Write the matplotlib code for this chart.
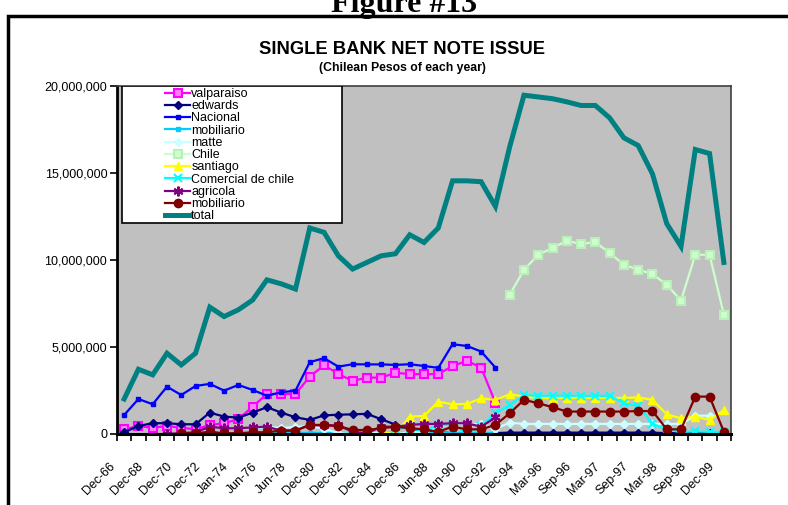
import numpy as np
import matplotlib
matplotlib.use("Agg")
import matplotlib.pyplot as plt
from matplotlib.patches import Rectangle
from matplotlib.ticker import FuncFormatter, FixedLocator
from matplotlib.transforms import ScaledTranslation

plt.rcParams["font.family"] = ["Liberation Sans", "DejaVu Sans"]

nan = np.nan

# tick labels (every other category), 43 categories in total
tick_labels = [
    "Dec-66", "Dec-68", "Dec-70", "Dec-72", "Jan-74", "Jun-76", "Jun-78",
    "Dec-80", "Dec-82", "Dec-84", "Dec-86", "Jun-88", "Jun-90", "Dec-92",
    "Dec-94", "Mar-96", "Sep-96", "Mar-97", "Sep-97", "Mar-98", "Sep-98",
    "Dec-99",
]
n_cat = 43

# values in millions of pesos
valparaiso = [0.27, 0.46, 0.36, 0.46, 0.36, 0.27, 0.52, 0.62, 0.85, 1.57, 2.3,
              2.3, 2.3, 3.3, 3.95, 3.45, 3.05, 3.24, 3.24, 3.52, 3.44, 3.44,
              3.44, 3.91, 4.2, 3.82, 1.8] + [nan] * 16
edwards = [0.1, 0.46, 0.62, 0.62, 0.56, 0.56, 1.23, 1.0, 0.94, 1.23, 1.54,
           1.23, 0.96, 0.81, 1.07, 1.11, 1.13, 1.16, 0.85, 0.54, 0.3, 0.15,
           0.1, 0.05, 0.05, 0.05, 0.05, 0.08, 0.08, 0.08, 0.08, 0.08, 0.08,
           0.08, 0.08, 0.08, 0.08, 0.08, 0.05, 0.05, 0.05, 0.05, 0.05]
nacional = [1.09, 2.01, 1.71, 2.72, 2.24, 2.76, 2.88, 2.49, 2.82, 2.53, 2.2,
            2.4, 2.49, 4.13, 4.36, 3.87, 4.01, 4.0, 4.0, 3.97, 4.01, 3.91,
            3.8, 5.16, 5.06, 4.74, 3.82] + [nan] * 16
mobiliario_1 = [nan] * 6 + [0.03] * 21 + [nan] * 16
matte = [nan] * 9 + [0.3, 0.4, 0.35, 0.4, 0.45, 0.3, 0.05, 0.0, 0.0, 0.1,
                     0.0, 0.1, 0.1, 0.4, 0.6, 0.6, 0.55, 0.3, 0.65] \
    + [0.58] * 12 + [1.05, 1.05, nan]
chile = [nan] * 27 + [8.0, 9.44, 10.3, 10.69, 11.1, 10.92, 11.03, 10.4, 9.73,
                      9.44, 9.2, 8.58, 7.67, 10.3, 10.3, 6.85]
santiago = [nan] * 18 + [0.05, 0.05, 1.0, 1.04, 1.86, 1.71, 1.73, 2.05, 1.96,
                         2.28, 2.15, 2.07, 2.07, 2.07, 2.07, 2.07, 2.07, 2.07,
                         2.1, 1.96, 1.13, 0.9, 1.0, 0.81, 1.38]
comercial = [nan] * 19 + [0.3, 0.3, 0.2, 0.5, 0.55, 0.02, 0.45, 1.19, 1.67,
                          2.24, 2.2, 2.2, 2.2, 2.2, 2.2, 2.2, 1.77, 1.61, 0.6,
                          0.23, 0.12, 0.15, 0.12, 0.12]
agricola = [nan] * 3 + [0.0, 0.05, 0.1, 0.42, 0.33, 0.33, 0.38, 0.42, 0.19,
                        0.19, 0.52, 0.49, 0.49, 0.13, 0.04, 0.42, 0.42, 0.52,
                        0.58, 0.58, 0.62, 0.62, 0.42, 0.95] + [nan] * 16
mobiliario_2 = [nan] * 4 + [0.04, 0.04, 0.13, 0.04, 0.04, 0.1, 0.1, 0.2, 0.2,
                            0.52, 0.52, 0.46, 0.23, 0.23, 0.33, 0.42, 0.33,
                            0.27, 0.13, 0.42, 0.27, 0.27, 0.52, 1.19, 1.96,
                            1.77, 1.54, 1.29, 1.29, 1.29, 1.29, 1.29, 1.32,
                            1.32, 0.27, 0.27, 2.15, 2.15, 0.13]
total = [2.01, 3.72, 3.40, 4.64, 3.97, 4.64, 7.29, 6.75, 7.14, 7.7, 8.86, 8.63,
         8.33, 11.84, 11.59, 10.24, 9.48, 9.86, 10.24, 10.36, 11.45, 11.01,
         11.84, 14.55, 14.55, 14.5, 13.08, 16.5, 19.47, 19.37, 19.27, 19.09,
         18.88, 18.88, 18.17, 17.02, 16.58, 14.95, 12.09, 10.78, 16.35, 16.12,
         9.86]

series = [
    ("valparaiso", valparaiso, "#ff00ff", dict(marker="s", ms=6, mfc="#ff80ff", mew=1.5)),
    ("edwards", edwards, "#000080", dict(marker="D", ms=4.5)),
    ("Nacional", nacional, "#0000ff", dict(marker="s", ms=3)),
    ("mobiliario", mobiliario_1, "#00ccff", dict(marker="s", ms=3)),
    ("matte", matte, "#ccffff", dict(marker="D", ms=4.5)),
    ("Chile", chile, "#ccffcc", dict(marker="s", ms=6, mfc="#ccffcc", mec="#b8f0b8", mew=1.5)),
    ("santiago", santiago, "#ffff00", dict(marker="^", ms=6)),
    ("Comercial de chile", comercial, "#00ffff", dict(marker="x", ms=6, mew=1.5)),
    ("agricola", agricola, "#800080", dict(marker=(6, 2, 0), ms=7, mew=1.5)),
    ("mobiliario", mobiliario_2, "#800000", dict(marker="o", ms=6)),
]

W, H = 788, 505
fig = plt.figure(figsize=(W / 100, H / 100), dpi=100)
ax_l, ax_r, ax_t, ax_b = 117, 731, 86, 434
ax = fig.add_axes([ax_l / W, 1 - ax_b / H, (ax_r - ax_l) / W, (ax_b - ax_t) / H])
ax.set_facecolor("#c0c0c0")

x = np.arange(n_cat)
handles = []
for label, vals, color, kw in series:
    y = np.array(vals, dtype=float) * 1e6
    h, = ax.plot(x, y, color=color, lw=1.6, label=label, zorder=2, **kw)
    handles.append(h)
h, = ax.plot(x, np.array(total) * 1e6, color="#008080", lw=3.6,
             solid_joinstyle="miter", label="total", zorder=3)
handles.append(h)

ax.set_xlim(-0.5, n_cat - 0.5)
ax.set_ylim(0, 20e6)
ax.set_yticks(np.arange(0, 20e6 + 1, 5e6))
ax.yaxis.set_major_formatter(FuncFormatter(lambda v, p: f"{v:,.0f}"))
ax.tick_params(axis="y", direction="out", length=5, width=1.2, labelsize=9, pad=2)

ax.set_xticks(np.arange(0, n_cat, 2))
ax.set_xticklabels(tick_labels, rotation=45, ha="right", va="top", fontsize=9)
ax.xaxis.set_minor_locator(FixedLocator(np.arange(-0.5, n_cat, 1)))
ax.tick_params(axis="x", which="major", length=0, pad=19)
ax.tick_params(axis="x", which="minor", direction="out", length=5, width=1.2)
offset = ScaledTranslation(-7 / 100, 0, fig.dpi_scale_trans)
for lab in ax.get_xticklabels():
    lab.set_transform(lab.get_transform() + offset)

for side in ["top", "right"]:
    ax.spines[side].set_color("#404040")
    ax.spines[side].set_linewidth(1.2)
ax.spines["left"].set_linewidth(2)
ax.spines["bottom"].set_linewidth(2.2)

# white legend box
box_l, box_r, box_t, box_b = 121.5, 341.5, 86, 222.5
ax.add_patch(Rectangle(((box_l - ax_l) / (ax_r - ax_l), (ax_b - box_b) / (ax_b - ax_t)),
                       (box_r - box_l) / (ax_r - ax_l), (box_b - box_t) / (ax_b - ax_t),
                       transform=ax.transAxes, facecolor="white", edgecolor="black",
                       lw=1.2, zorder=4))
leg = ax.legend(handles=handles, loc="upper left",
                bbox_to_anchor=(165 / W, 1 - 88 / H), bbox_transform=fig.transFigure,
                frameon=False, fontsize=9, borderpad=0, borderaxespad=0,
                handlelength=2.0, handletextpad=0.1, labelspacing=0.02,
                numpoints=1)
leg.set_zorder(6)

fig.text(402 / W, 1 - 50 / H, "SINGLE BANK NET NOTE ISSUE", ha="center", va="center",
         fontsize=13.2, fontweight="bold")
fig.text(402 / W, 1 - 68 / H, "(Chilean Pesos of each year)", ha="center", va="center",
         fontsize=8.8, fontweight="bold")
fig.text(404 / W, 1 - 12 / H, "Figure #13", ha="center", va="baseline",
         fontsize=23, fontweight="bold", family="Liberation Serif")

# outer frame of the page
fig.add_artist(Rectangle((8 / W, -0.1), 1.1, 1 - 16 / H + 0.1, transform=fig.transFigure,
                         fill=False, edgecolor="black", lw=2.5))

fig.savefig("out.png", dpi=100)
